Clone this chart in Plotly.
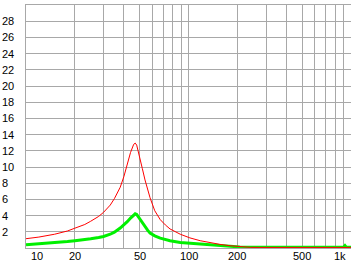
import numpy as np
import plotly.graph_objects as go

freq = [10, 12, 15, 18, 20, 23, 25, 28, 30, 33, 35, 38, 40, 42, 44, 46, 47, 48, 50, 52, 54, 56, 58, 62, 67, 72, 77, 89, 102, 118, 135, 156, 180, 207, 240, 275, 400, 600, 900, 918, 935, 1000]
red = [1.15, 1.35, 1.7, 2.1, 2.45, 2.9, 3.3, 3.9, 4.4, 5.3, 6.1, 7.5, 8.8, 10.3, 11.8, 12.8, 12.95, 12.7, 11.4, 9.8, 8.4, 7.2, 6.2, 4.6, 3.5, 2.85, 2.35, 1.7, 1.25, 0.9, 0.66, 0.45, 0.28, 0.15, 0.08, 0.07, 0.07, 0.07, 0.07, 0.07, 0.07, 0.07]
green = [0.4, 0.5, 0.65, 0.8, 0.9, 1.02, 1.14, 1.3, 1.42, 1.7, 1.95, 2.46, 2.85, 3.25, 3.7, 4.1, 4.22, 4.15, 3.6, 3.05, 2.6, 2.2, 1.84, 1.5, 1.22, 1.02, 0.89, 0.68, 0.58, 0.48, 0.37, 0.27, 0.19, 0.13, 0.09, 0.09, 0.09, 0.09, 0.09, 0.3, 0.09, 0.09]

x_grid = [20, 30, 40, 50, 60, 70, 80, 90, 100, 200, 300, 400, 500, 600, 700, 800, 900, 1000]
x_labels = [(10, "10", 11), (20, "20", 0), (50, "50", 0), (100, "100", 0), (200, "200", 0), (500, "500", 0), (1000, "1k", -11)]
y_labels = list(range(2, 30, 2))

FONT = dict(family="Liberation Sans, Arial, sans-serif", size=11, color="#000000")
GRID = "#a8a8a8"

fig = go.Figure()
fig.add_trace(go.Scatter(x=freq, y=green, mode="lines", line=dict(color="#00f000", width=3), showlegend=False))
fig.add_trace(go.Scatter(x=freq, y=red, mode="lines", line=dict(color="#ff0000", width=1), showlegend=False))

fig.update_layout(
    width=356, height=264,
    margin=dict(l=26, r=5, t=5, b=16),
    paper_bgcolor="white", plot_bgcolor="white",
    font=FONT,
    xaxis=dict(type="log", range=[1, 3], tickvals=x_grid, showticklabels=False, ticks="",
               showgrid=True, gridcolor=GRID, gridwidth=1, showline=True, linecolor=GRID, linewidth=1, mirror=True,
               zeroline=False, fixedrange=True),
    yaxis=dict(range=[0, 30], tickvals=y_labels, showticklabels=False, ticks="",
               showgrid=True, gridcolor=GRID, gridwidth=1, showline=True, linecolor=GRID, linewidth=1,
               zeroline=False, fixedrange=True),
)

for v, t, sh in x_labels:
    fig.add_annotation(x=np.log10(v), y=0, xref="x", yref="paper", text=t, showarrow=False,
                       xanchor="center", yanchor="middle", yshift=-8, xshift=sh, font=FONT)
for v in y_labels:
    fig.add_annotation(x=0, y=v, xref="paper", yref="y", text=str(v), showarrow=False,
                       xanchor="left", yanchor="middle", xshift=-26, font=FONT)

fig.write_html("out.html")
